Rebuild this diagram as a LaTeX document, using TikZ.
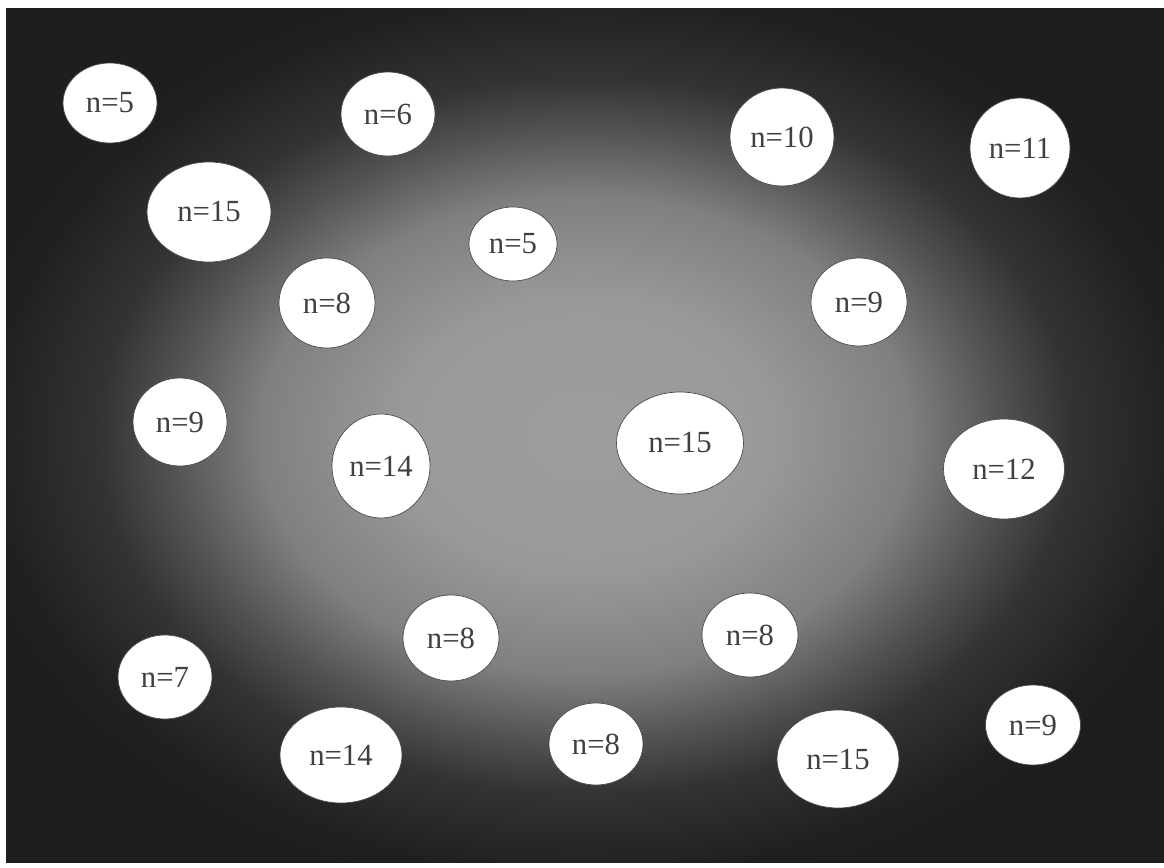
\documentclass[tikz,border=0pt]{standalone}
\usepackage{fontspec}
\setmainfont{Liberation Serif}
\usetikzlibrary{shapes.geometric}

\pgfdeclareradialshading{glow}{\pgfpoint{0bp}{0bp}}{%
  color(0bp)=(black!38); color(8bp)=(black!40); color(14bp)=(black!50);
  color(18bp)=(black!68); color(21bp)=(black!80); color(26bp)=(black!88);
  color(72bp)=(black!90)}

\begin{document}
\begin{tikzpicture}[
  x=0.02cm, y=-0.02cm,
  every node/.style={font=\fontsize{17.5}{20}\selectfont, text=black!75},
  cluster/.style={draw=black!70, line width=0.4pt, fill=white, ellipse, inner sep=0pt},
  span/.style 2 args={minimum width=#1*0.02cm, minimum height=#2*0.02cm}
]
  % page and shaded field
  \useasboundingbox (0,0) rectangle (1164,868);
  \fill[white] (0,0) rectangle (1164,868);
  \shade[shading=glow] (6,9) rectangle (1164,862);

  % top row
  \node[cluster, span={94}{80}] (c1) at (110,103) {n=5};
  \node[cluster, span={94}{84}] (c2) at (388,114) {n=6};
  \node[cluster, span={104}{98}] (c3) at (782,137) {n=10};
  \node[cluster, span={100}{100}] (c4) at (1020,148) {n=11};

  \node[cluster, span={124}{100}] (c5) at (209,212) {n=15};
  \node[cluster, span={88}{74}] (c6) at (513,244) {n=5};
  \node[cluster, span={96}{90}] (c7) at (327,303) {n=8};
  \node[cluster, span={96}{88}] (c8) at (859,302) {n=9};

  % middle row
  \node[cluster, span={94}{88}] (c9) at (180,422) {n=9};
  \node[cluster, span={98}{104}] (c10) at (381,466) {n=14};
  \node[cluster, span={127}{102}] (c11) at (680,443) {n=15};
  \node[cluster, span={121}{100}] (c12) at (1004,469) {n=12};

  % bottom rows
  \node[cluster, span={96}{86}] (c13) at (451,638) {n=8};
  \node[cluster, span={96}{84}] (c14) at (750,635) {n=8};
  \node[cluster, span={94}{84}] (c15) at (165,677) {n=7};
  \node[cluster, span={122}{96}] (c16) at (341,755) {n=14};
  \node[cluster, span={94}{82}] (c17) at (596,744) {n=8};
  \node[cluster, span={122}{98}] (c18) at (838,759) {n=15};
  \node[cluster, span={95}{80}] (c19) at (1033,725) {n=9};
\end{tikzpicture}
\end{document}
